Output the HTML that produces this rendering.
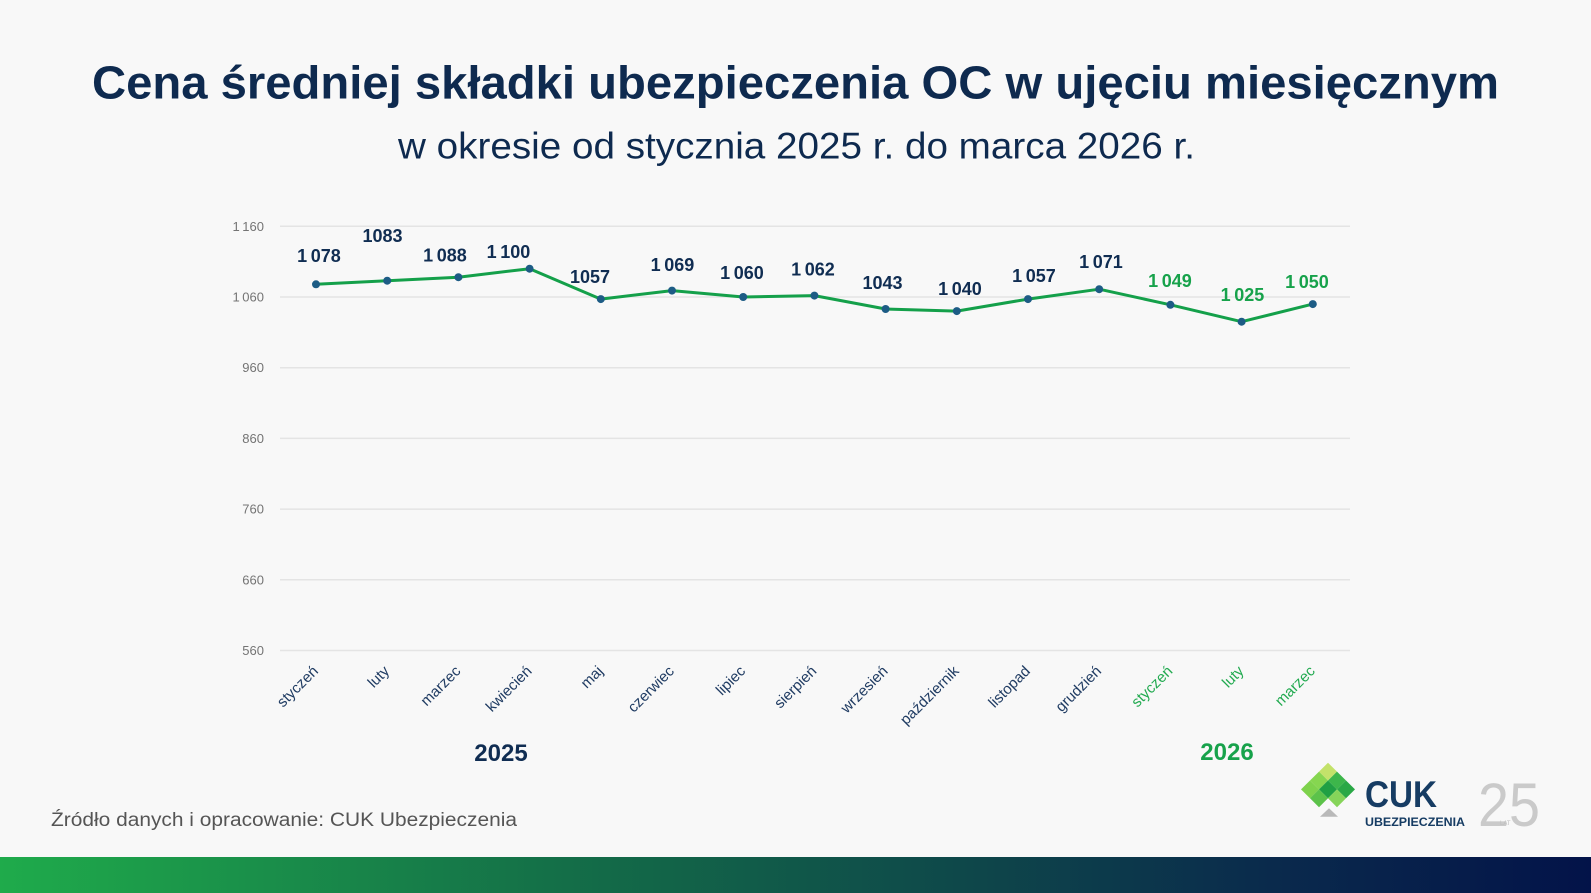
<!DOCTYPE html>
<html>
<head>
<meta charset="utf-8">
<style>
  html, body { margin: 0; padding: 0; background: #f8f8f8; }
  body { width: 1591px; height: 893px; overflow: hidden; }
  svg { display: block; font-family: "Liberation Sans", "DejaVu Sans", sans-serif; }
</style>
</head>
<body>
<svg width="1591" height="893" viewBox="0 0 1591 893" xmlns="http://www.w3.org/2000/svg">
  <defs>
    <linearGradient id="bar" x1="0" y1="0" x2="1" y2="0">
      <stop offset="0" stop-color="#1fab4b"/>
      <stop offset="0.38" stop-color="#136a48"/>
      <stop offset="0.8" stop-color="#0a2a4c"/>
      <stop offset="1" stop-color="#031349"/>
    </linearGradient>
  </defs>
  <rect x="0" y="0" width="1591" height="893" fill="#f8f8f8"/>

  <!-- Title -->
  <text x="92" y="98.5" font-size="46" font-weight="bold" fill="#0e2a4f" textLength="1407" lengthAdjust="spacingAndGlyphs">Cena średniej składki ubezpieczenia OC w ujęciu miesięcznym</text>
  <text x="398" y="158.3" font-size="37" fill="#0e2a4f" textLength="797" lengthAdjust="spacingAndGlyphs">w okresie od stycznia 2025 r. do marca 2026 r.</text>

  <!-- Gridlines -->
  <g stroke="#e4e4e4" stroke-width="1.5">
    <line x1="280" y1="226.3" x2="1350" y2="226.3"/>
    <line x1="280" y1="297.0" x2="1350" y2="297.0"/>
    <line x1="280" y1="367.7" x2="1350" y2="367.7"/>
    <line x1="280" y1="438.4" x2="1350" y2="438.4"/>
    <line x1="280" y1="509.1" x2="1350" y2="509.1"/>
    <line x1="280" y1="579.8" x2="1350" y2="579.8"/>
    <line x1="280" y1="650.5" x2="1350" y2="650.5"/>
  </g>

  <!-- Y labels -->
  <g font-size="13" fill="#747474" text-anchor="end">
    <text x="264" y="230.8">1&#8201;160</text>
    <text x="264" y="301.5">1&#8201;060</text>
    <text x="264" y="372.2">960</text>
    <text x="264" y="442.9">860</text>
    <text x="264" y="513.6">760</text>
    <text x="264" y="584.3">660</text>
    <text x="264" y="655.0">560</text>
  </g>

  <!-- Line -->
  <polyline fill="none" stroke="#14a04a" stroke-width="3" stroke-linejoin="round" stroke-linecap="round"
    points="316,284.3 387.2,280.7 458.4,277.2 529.6,268.7 600.8,299.1 672,290.6 743.2,297.0 814.4,295.6 885.6,309.0 956.8,311.1 1028,299.1 1099.2,289.2 1170.4,304.8 1241.6,321.7 1312.8,304.1"/>

  <!-- Markers -->
  <g fill="#1d5c85">
    <circle cx="316" cy="284.3" r="4"/>
    <circle cx="387.2" cy="280.7" r="4"/>
    <circle cx="458.4" cy="277.2" r="4"/>
    <circle cx="529.6" cy="268.7" r="4"/>
    <circle cx="600.8" cy="299.1" r="4"/>
    <circle cx="672" cy="290.6" r="4"/>
    <circle cx="743.2" cy="297.0" r="4"/>
    <circle cx="814.4" cy="295.6" r="4"/>
    <circle cx="885.6" cy="309.0" r="4"/>
    <circle cx="956.8" cy="311.1" r="4"/>
    <circle cx="1028" cy="299.1" r="4"/>
    <circle cx="1099.2" cy="289.2" r="4"/>
    <circle cx="1170.4" cy="304.8" r="4"/>
    <circle cx="1241.6" cy="321.7" r="4"/>
    <circle cx="1312.8" cy="304.1" r="4"/>
  </g>

  <!-- Data labels -->
  <g font-size="18" font-weight="bold" text-anchor="middle" fill="#102d52">
    <text x="319" y="262">1&#8201;078</text>
    <text x="382.5" y="242">1083</text>
    <text x="445" y="261.7">1&#8201;088</text>
    <text x="508.5" y="258">1&#8201;100</text>
    <text x="590" y="283">1057</text>
    <text x="672.5" y="271">1&#8201;069</text>
    <text x="742" y="279">1&#8201;060</text>
    <text x="813" y="275.7">1&#8201;062</text>
    <text x="882.5" y="289">1043</text>
    <text x="960" y="295">1&#8201;040</text>
    <text x="1034" y="282">1&#8201;057</text>
    <text x="1101" y="268">1&#8201;071</text>
  </g>
  <g font-size="18" font-weight="bold" text-anchor="middle" fill="#17a24b">
    <text x="1170" y="287">1&#8201;049</text>
    <text x="1242.5" y="301">1&#8201;025</text>
    <text x="1307" y="288">1&#8201;050</text>
  </g>

  <!-- X labels -->
  <g font-size="15" text-anchor="end" fill="#1f3b62">
    <text transform="translate(319,672) rotate(-45)">styczeń</text>
    <text transform="translate(390.2,672) rotate(-45)">luty</text>
    <text transform="translate(461.4,672) rotate(-45)">marzec</text>
    <text transform="translate(532.6,672) rotate(-45)">kwiecień</text>
    <text transform="translate(603.8,672) rotate(-45)">maj</text>
    <text transform="translate(675,672) rotate(-45)">czerwiec</text>
    <text transform="translate(746.2,672) rotate(-45)">lipiec</text>
    <text transform="translate(817.4,672) rotate(-45)">sierpień</text>
    <text transform="translate(888.6,672) rotate(-45)">wrzesień</text>
    <text transform="translate(959.8,672) rotate(-45)">październik</text>
    <text transform="translate(1031,672) rotate(-45)">listopad</text>
    <text transform="translate(1102.2,672) rotate(-45)">grudzień</text>
  </g>
  <g font-size="15" text-anchor="end" fill="#22aa50">
    <text transform="translate(1173.4,672) rotate(-45)">styczeń</text>
    <text transform="translate(1244.6,672) rotate(-45)">luty</text>
    <text transform="translate(1315.8,672) rotate(-45)">marzec</text>
  </g>

  <!-- Year labels -->
  <text x="501" y="761" font-size="24" font-weight="bold" text-anchor="middle" fill="#102d52">2025</text>
  <text x="1227" y="760" font-size="24" font-weight="bold" text-anchor="middle" fill="#17a24b">2026</text>

  <!-- Source -->
  <text x="51" y="826" font-size="19" fill="#555555" textLength="466" lengthAdjust="spacingAndGlyphs">Źródło danych i opracowanie: CUK Ubezpieczenia</text>

  <!-- Logo diamond -->
  <g>
    <polygon points="1328,762.7 1337,771.6 1328,780.5 1319,771.6" fill="#c3e26a"/>
    <polygon points="1337,771.6 1346,780.5 1337,789.4 1328,780.5" fill="#3db64b"/>
    <polygon points="1319,771.6 1328,780.5 1319,789.4 1310,780.5" fill="#86d650"/>
    <polygon points="1328,780.5 1337,789.4 1328,798.3 1319,789.4" fill="#20a043"/>
    <polygon points="1346,780.5 1355,789.4 1346,798.3 1337,789.4" fill="#2aa846"/>
    <polygon points="1310,780.5 1319,789.4 1310,798.3 1301,789.4" fill="#7ed24c"/>
    <polygon points="1337,789.4 1346,798.3 1337,807.2 1328,798.3" fill="#86d45a"/>
    <polygon points="1319,789.4 1328,798.3 1319,807.2 1310,798.3" fill="#5cc24a"/>
    <polygon points="1320,816.7 1338,816.7 1329,808.3" fill="#b9b9b9"/>
  </g>
  <text x="1365" y="807" font-size="37" font-weight="bold" fill="#163c63" textLength="72" lengthAdjust="spacingAndGlyphs">CUK</text>
  <text x="1365" y="826" font-size="11.5" font-weight="bold" fill="#163c63" textLength="100" lengthAdjust="spacingAndGlyphs">UBEZPIECZENIA</text>
  <text x="1478" y="826" font-size="61" fill="#cacaca" textLength="62" lengthAdjust="spacingAndGlyphs">25</text>
  <text x="1500" y="825" font-size="6" fill="#bdbdbd">LAT</text>

  <!-- Bottom bar -->
  <rect x="0" y="857" width="1591" height="36" fill="url(#bar)"/>
</svg>
</body>
</html>
